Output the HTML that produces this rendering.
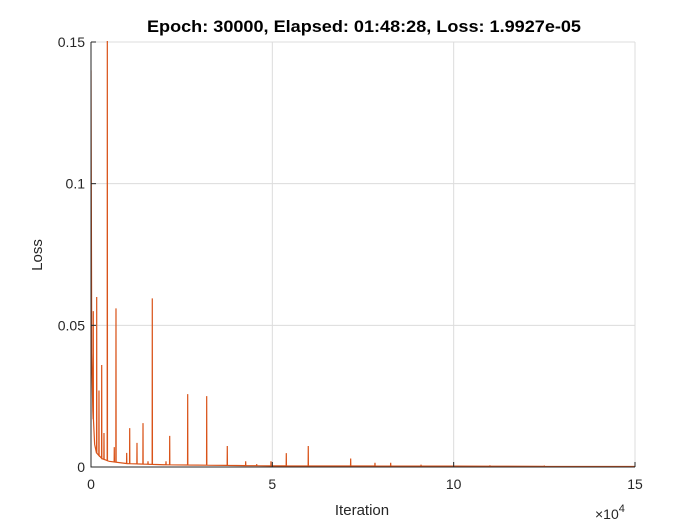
<!DOCTYPE html>
<html><head><meta charset="utf-8"><style>
body{margin:0;background:#fff}
svg{font-family:"Liberation Sans",Arial,sans-serif}
</style></head><body>
<svg id="chart" width="700" height="525">
<rect width="700" height="525" fill="#fff"/>
<g id="grid"></g>
<g id="plot"></g>
<g id="axes"></g>
<text x="364" y="32" text-anchor="middle" font-size="17" font-weight="bold" fill="#000" textLength="434" lengthAdjust="spacingAndGlyphs">Epoch: 30000, Elapsed: 01:48:28, Loss: 1.9927e-05</text>
<text x="362" y="515" text-anchor="middle" font-size="15" fill="#262626">Iteration</text>
<text x="0" y="0" transform="translate(42,255) rotate(-90)" text-anchor="middle" font-size="15" fill="#262626">Loss</text>
<text x="595" y="519" font-size="14" fill="#262626">×10<tspan dy="-7" font-size="11">4</tspan></text>
</svg>
<script>
const xTicks=[0,50000,100000,150000];
const xTickLabels=["0","5","10","15"];
const yTicks=[0,0.05,0.1,0.15];
const yTickLabels=["0","0.05","0.1","0.15"];
const baseIter=[0,200,500,1000,1500,3000,5000,10000,20000,50000,100000,150000];
const baseLoss=[0.14,0.04,0.02,0.008,0.005,0.003,0.002,0.0012,0.0008,0.0004,0.0003,0.0002];
const spikeIter=[630,1570,2200,2950,3580,4500,6420,6890,9840,10670,12680,14340,15720,16900,20680,21700,26660,31900,37580,42650,45690,49630,53850,59910,71600,78300,82630,91000,110000,125000];
const spikeLoss=[0.055,0.06,0.027,0.036,0.012,0.16,0.007,0.056,0.005,0.0137,0.0085,0.0155,0.002,0.0595,0.002,0.011,0.0257,0.025,0.0074,0.002,0.001,0.002,0.0049,0.0074,0.003,0.0015,0.0015,0.0008,0.0006,0.0005];
const X0=91,X1=635,Y0=467,Y1=42;
const sx=v=>X0+(v-0)/(150000)*(X1-X0);
const sy=v=>Y0-(v/0.15)*(Y0-Y1);
const NS="http://www.w3.org/2000/svg";
function mk(t,a,p){const e=document.createElementNS(NS,t);for(const k in a)e.setAttribute(k,a[k]);p.appendChild(e);return e;}
const grid=document.getElementById('grid'),axes=document.getElementById('axes'),plot=document.getElementById('plot');
xTicks.forEach((t,i)=>{
 if(i>0){const g=mk('line',{x1:sx(t),x2:sx(t),y1:Y0,y2:Y1,stroke:'#dcdcdc','stroke-width':1},grid);
 
 }
 const tk=mk('line',{x1:sx(t),x2:sx(t),y1:Y0,y2:Y0-5,stroke:'#262626'},axes);
 
 
 const l=mk('text',{x:sx(t),y:Y0+22,'text-anchor':'middle','font-size':14,fill:'#262626'},axes);
 l.textContent=xTickLabels[i];
 
 
});
yTicks.forEach((t,i)=>{
 if(i>0){const g=mk('line',{x1:X0,x2:X1,y1:sy(t),y2:sy(t),stroke:'#dcdcdc','stroke-width':1},grid);
 
 }
 const tk=mk('line',{x1:X0,x2:X0+5,y1:sy(t),y2:sy(t),stroke:'#262626'},axes);
 
 
 const l=mk('text',{x:X0-6,y:sy(t)+5,'text-anchor':'end','font-size':14,fill:'#262626'},axes);
 l.textContent=yTickLabels[i];
 
 
});
const ax=mk('path',{d:`M${X0},${Y1}V${Y0}H${X1}`,fill:'none',stroke:'#262626','stroke-width':1},axes);


function base(it){for(let i=1;i<baseIter.length;i++){if(it<=baseIter[i]){const f=(it-baseIter[i-1])/(baseIter[i]-baseIter[i-1]);return baseLoss[i-1]+f*(baseLoss[i]-baseLoss[i-1]);}}return baseLoss[baseLoss.length-1];}
const pts=[];let j=0;
for(let i=0;i<baseIter.length;i++){
 while(j<spikeIter.length&&spikeIter[j]<baseIter[i]){const s=spikeIter[j],b=base(s);pts.push([s-40,b],[s,spikeLoss[j]],[s+40,b]);j++;}
 pts.push([baseIter[i],baseLoss[i]]);
}
const cp=mk('clipPath',{id:'clip'},plot);mk('rect',{x:X0,y:Y1-1,width:X1-X0,height:Y0-Y1+1},cp);
const line=mk('polyline',{points:pts.map(p=>sx(p[0]).toFixed(2)+','+sy(p[1]).toFixed(2)).join(' '),fill:'none',stroke:'#D95319','stroke-width':1.2,'clip-path':'url(#clip)'},plot);


</script>
</body></html>
